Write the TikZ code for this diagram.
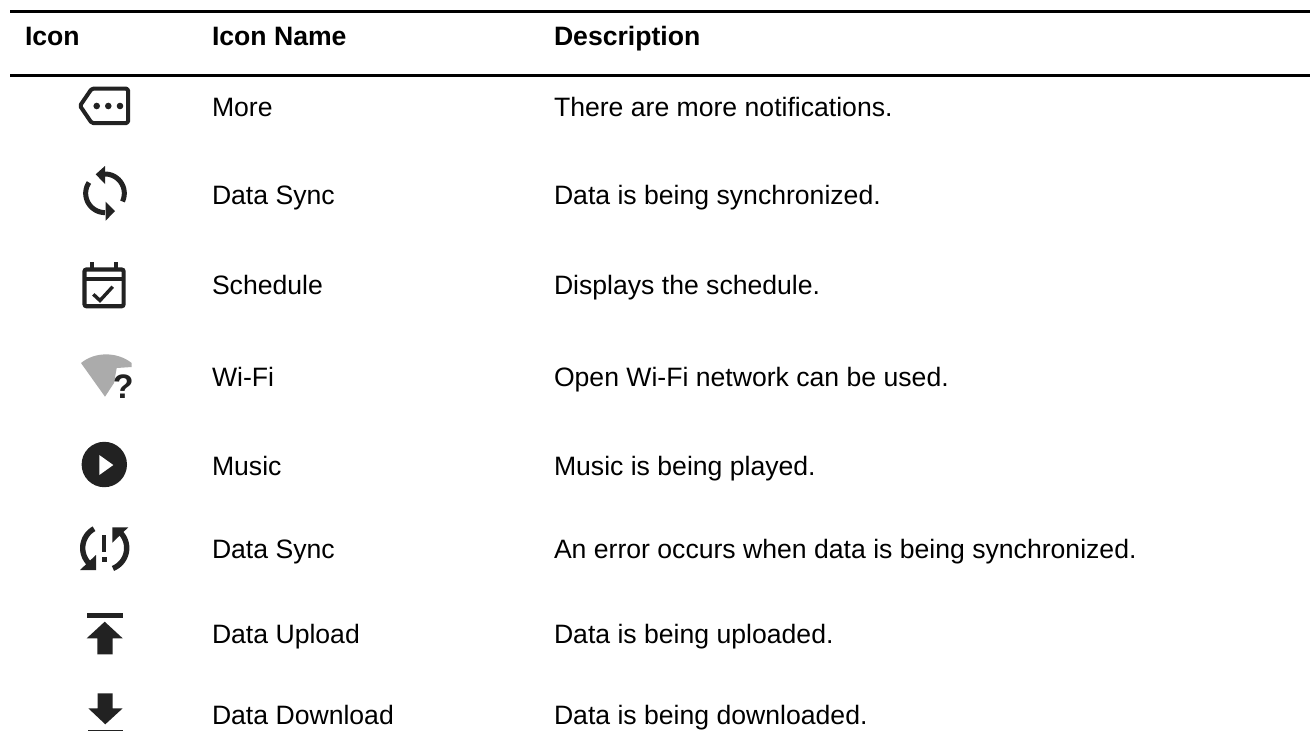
\documentclass[tikz,border=0pt]{standalone}
\usepackage{fontspec}
\setmainfont{Liberation Sans}
\definecolor{ink}{HTML}{222222}
\definecolor{wifi}{HTML}{ABABAB}
\tikzset{x=1pt,y=-1pt,
 rowtext/.style={anchor=base west,inner sep=0pt,outer sep=0pt,font=\fontsize{26.6}{30}\selectfont,text=black},
 headtext/.style={rowtext,font=\fontsize{26.6}{30}\selectfont\bfseries},
 rule/.style={line width=3pt,black},
 iconline/.style={draw=ink,line width=4pt,line join=round},
 syncline/.style={draw=ink,line width=5pt},
 errline/.style={draw=ink,line width=5.4pt}}
\begin{document}
\begin{tikzpicture}
\useasboundingbox (0,0) rectangle (1314,731);
\fill[white] (0,0) rectangle (1314,731);
\draw[rule] (10,11) -- (1310,11);
\draw[rule] (10,75) -- (1310,75);
\node[headtext] (h1) at (25,45) {Icon};
\node[headtext] (h2) at (212,45) {Icon Name};
\node[headtext] (h3) at (554,45) {Description};
\foreach \n/\y/\a/\b in {r1/116/More/There are more notifications.,
 r2/204/Data Sync/Data is being synchronized.,
 r3/294.3/Schedule/Displays the schedule.,
 r4/386.7/Wi-Fi/Open Wi-Fi network can be used.,
 r5/475/Music/Music is being played.,
 r6/558/Data Sync/An error occurs when data is being synchronized.,
 r7/643/Data Upload/Data is being uploaded.,
 r8/724/Data Download/Data is being downloaded.}{
 \node[rowtext] (\n a) at (212,\y) {\a};
 \node[rowtext] (\n b) at (554,\y) {\b};
}
% More
\draw[iconline,rounded corners=1.5pt] (80,105.8) -- (91.7,88.7) -- (128,88.7) -- (128,123) -- (91.7,123) -- cycle;
\foreach \x in {96.7,108.3,120}{\fill[ink] (\x,106) circle[radius=3.3];}
% Data Sync
\draw[syncline] plot[domain=-90:25,samples=30,smooth] ({105+19.3*cos(\x)},{193.3+19.3*sin(\x)});
\draw[syncline] plot[domain=214:90,samples=30,smooth] ({105+19.3*cos(\x)},{193.3+19.3*sin(\x)});
\fill[ink] (95.7,174.3) -- (105,166) -- (105,184) -- cycle;
\fill[ink] (115,211) -- (105.7,201.7) -- (105.7,220.7) -- cycle;
% Schedule
\fill[ink] (90.3,262.3) rectangle (94.3,268);
\fill[ink] (113.7,262.3) rectangle (117.7,268);
\draw[draw=ink,line width=4.2pt,rounded corners=2pt] (84.5,269.5) rectangle (123.6,306.2);
\fill[ink] (84,277) rectangle (124,281);
\draw[draw=ink,line width=3.4pt] (93.3,294.3) -- (100,300.5) -- (112.7,286.7);
% Wi-Fi
\fill[wifi] (105,396.7) -- (81,363) .. controls (95,351.5) and (117,351.5) .. (131.7,363) -- (131.7,367) -- (116.7,368) -- (114,383) -- cycle;
\node[inner sep=0pt,anchor=base,font=\fontsize{34}{34}\selectfont\bfseries,text=ink] (wq) at (123.3,398.3) {?};
% Music
\fill[ink] (104.3,464.5) circle[radius=22.7];
\fill[white] (99.3,455) -- (113.3,465) -- (99.3,475) -- cycle;
% Data Sync error
\draw[errline] plot[domain=241:133,samples=30,smooth] ({104.7+22*cos(\x)},{548+22*sin(\x)});
\draw[errline] plot[domain=-50:68,samples=30,smooth] ({104.7+22*cos(\x)},{548+22*sin(\x)});
\fill[ink] (96,555) -- (96,570) -- (80,570) -- cycle;
\fill[ink] (112.3,527.3) -- (128.3,527.3) -- (112.3,542.7) -- cycle;
\fill[ink] (101.7,535) rectangle (106,551.7);
\fill[ink] (101.7,556.7) rectangle (107,562);
% Upload
\fill[ink] (86.7,613.3) rectangle (122.7,618);
\fill[ink] (104.7,621.7) -- (122.7,638.3) -- (112.7,638.3) -- (112.7,654.3) -- (97.3,654.3) -- (97.3,638.3) -- (86.7,638.3) -- cycle;
% Download
\fill[ink] (97.7,693.3) -- (112.7,693.3) -- (112.7,708.3) -- (122.7,708.3) -- (105.3,724.3) -- (88.3,708.3) -- (97.7,708.3) -- cycle;
\fill[ink] (88.3,730) rectangle (122.7,731);
\end{tikzpicture}
\end{document}
